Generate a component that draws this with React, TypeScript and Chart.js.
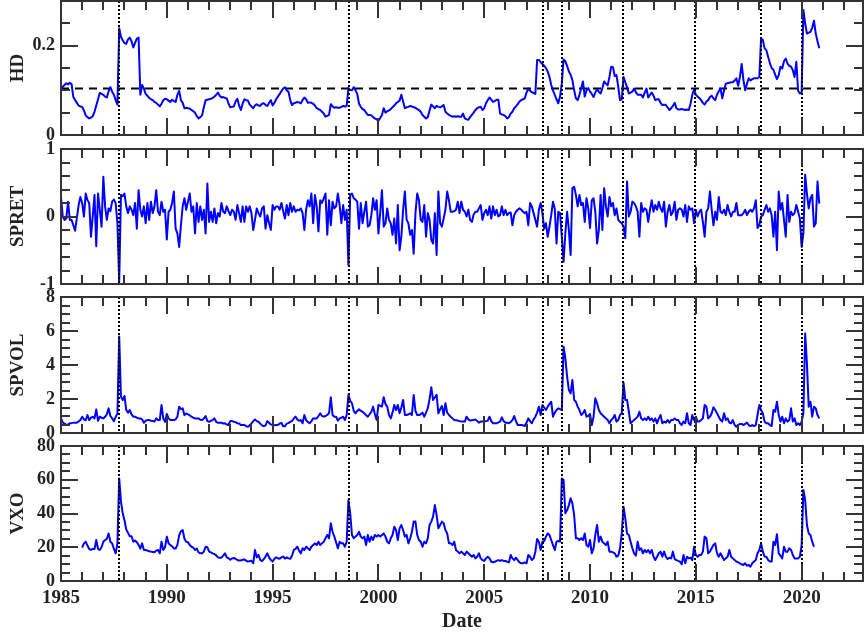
import React, { useEffect, useRef } from 'react';
import { Chart, registerables } from 'chart.js';
Chart.register(...registerables);

// ---------------- data ----------------
const START_YEAR = 1985; // HD, SPRET, SPVOL: monthly from Jan 1985
const VXO_START_YEAR = 1986; // VXO: monthly from Jan 1986
const X_MIN = 1985;
const X_MAX = 2022.9;
const X_MAJOR = 5;

const eventDates = [1987.75, 1998.6, 2007.76, 2008.68, 2011.57, 2014.96, 2018.07, 2020.03];
const hdThreshold = 0.104;

const hdValues = [
  0.100,0.108,0.112,0.116,0.113,0.117,0.114,0.085,0.078,0.072,0.066,0.064,
  0.063,0.055,0.044,0.040,0.037,0.039,0.042,0.052,0.066,0.080,0.094,0.092,
  0.090,0.086,0.084,0.098,0.107,0.097,0.090,0.078,0.068,0.239,0.220,0.212,
  0.206,0.204,0.214,0.218,0.210,0.196,0.206,0.216,0.218,0.090,0.112,0.104,
  0.092,0.088,0.083,0.080,0.078,0.074,0.072,0.068,0.064,0.070,0.078,0.081,
  0.080,0.077,0.074,0.079,0.076,0.074,0.090,0.099,0.078,0.072,0.060,0.061,
  0.060,0.059,0.056,0.053,0.050,0.042,0.037,0.040,0.044,0.062,0.078,0.079,
  0.080,0.081,0.083,0.086,0.090,0.095,0.088,0.084,0.085,0.083,0.082,0.070,
  0.062,0.063,0.064,0.075,0.081,0.066,0.056,0.070,0.080,0.078,0.077,0.068,
  0.064,0.060,0.066,0.069,0.066,0.065,0.070,0.071,0.067,0.065,0.072,0.078,
  0.066,0.072,0.080,0.086,0.092,0.098,0.104,0.107,0.100,0.097,0.078,0.067,
  0.071,0.072,0.074,0.073,0.071,0.078,0.084,0.080,0.072,0.073,0.072,0.070,
  0.066,0.060,0.058,0.056,0.052,0.048,0.041,0.043,0.045,0.069,0.064,0.061,
  0.062,0.061,0.061,0.063,0.065,0.064,0.065,0.105,0.101,0.100,0.107,0.100,
  0.092,0.070,0.063,0.058,0.056,0.050,0.045,0.045,0.044,0.040,0.037,0.035,
  0.032,0.038,0.045,0.060,0.050,0.053,0.055,0.058,0.062,0.066,0.071,0.074,
  0.077,0.090,0.075,0.060,0.062,0.063,0.065,0.064,0.062,0.061,0.058,0.056,
  0.052,0.045,0.041,0.037,0.040,0.055,0.068,0.064,0.060,0.065,0.063,0.062,
  0.064,0.067,0.052,0.048,0.045,0.043,0.041,0.042,0.041,0.042,0.041,0.041,
  0.048,0.037,0.035,0.034,0.040,0.045,0.050,0.056,0.060,0.062,0.063,0.056,
  0.060,0.071,0.078,0.084,0.079,0.074,0.076,0.079,0.079,0.048,0.046,0.045,
  0.042,0.037,0.040,0.048,0.052,0.060,0.064,0.069,0.075,0.078,0.080,0.082,
  0.095,0.104,0.099,0.096,0.094,0.092,0.168,0.168,0.163,0.159,0.155,0.150,
  0.142,0.130,0.112,0.100,0.090,0.080,0.071,0.086,0.116,0.169,0.165,0.155,
  0.142,0.135,0.123,0.100,0.082,0.078,0.090,0.105,0.120,0.086,0.100,0.105,
  0.097,0.092,0.085,0.095,0.102,0.097,0.093,0.105,0.120,0.115,0.111,0.130,
  0.153,0.152,0.132,0.134,0.108,0.078,0.080,0.130,0.118,0.107,0.093,0.095,
  0.097,0.104,0.096,0.090,0.090,0.090,0.084,0.095,0.104,0.084,0.090,0.095,
  0.088,0.078,0.080,0.080,0.072,0.067,0.068,0.067,0.062,0.056,0.060,0.065,
  0.072,0.060,0.057,0.057,0.058,0.057,0.056,0.057,0.056,0.070,0.090,0.102,
  0.090,0.086,0.083,0.078,0.072,0.068,0.075,0.078,0.085,0.088,0.082,0.078,
  0.090,0.098,0.104,0.082,0.100,0.115,0.116,0.117,0.118,0.118,0.122,0.127,
  0.110,0.130,0.159,0.123,0.100,0.115,0.127,0.122,0.125,0.127,0.127,0.127,
  0.130,0.216,0.213,0.194,0.190,0.175,0.161,0.150,0.146,0.135,0.125,0.134,
  0.153,0.149,0.165,0.171,0.160,0.155,0.153,0.145,0.130,0.164,0.099,0.093,
  0.095,0.280,0.250,0.227,0.229,0.231,0.240,0.256,0.227,0.210,0.194,
];

const spretValues = [
  0.29,0.00,-0.05,-0.03,0.22,-0.05,-0.05,-0.13,-0.21,-0.02,0.17,0.29,
  0.20,0.00,0.34,0.24,0.20,-0.30,0.00,0.32,-0.44,0.34,0.10,-0.15,
  0.59,0.15,-0.05,0.12,0.08,0.22,0.25,0.20,-0.10,-0.97,0.32,0.30,
  0.34,0.15,0.05,0.15,0.10,0.02,0.20,-0.18,0.39,0.10,0.00,0.15,
  -0.10,0.20,-0.05,0.22,0.05,0.15,0.39,0.07,0.02,0.22,0.07,0.10,
  -0.34,0.07,0.10,0.20,0.37,-0.18,-0.25,-0.45,-0.13,0.15,0.27,0.10,
  0.22,0.34,0.07,0.15,-0.25,0.20,-0.08,0.15,-0.05,0.10,-0.25,0.49,
  -0.08,0.07,-0.08,0.12,-0.10,0.05,0.00,0.20,0.07,0.05,0.15,0.08,
  0.02,0.10,0.07,-0.05,0.17,0.05,-0.08,0.15,-0.08,0.15,0.07,0.15,
  0.05,-0.20,-0.05,0.12,0.05,0.00,0.12,0.15,-0.18,0.02,-0.10,-0.20,
  0.17,0.10,0.15,0.15,0.10,0.20,0.08,-0.03,0.17,0.02,0.20,0.07,
  0.15,0.07,0.10,0.09,0.12,0.05,-0.20,0.10,0.24,0.15,0.34,-0.10,
  0.32,0.15,-0.22,0.24,0.20,0.27,0.34,-0.27,0.24,-0.13,0.22,0.12,
  0.15,0.34,0.17,-0.10,0.17,-0.05,0.10,-0.72,0.32,0.34,0.27,0.25,
  0.22,-0.18,0.20,-0.10,0.07,0.22,-0.15,-0.13,0.02,0.27,0.10,0.24,
  -0.25,0.05,0.39,-0.15,-0.10,0.12,-0.05,-0.10,-0.27,-0.03,-0.40,0.17,
  -0.50,-0.30,0.10,0.37,-0.05,-0.10,-0.27,-0.20,-0.55,0.05,0.34,0.24,
  -0.05,-0.08,0.17,-0.30,0.05,-0.05,-0.35,-0.40,0.05,-0.57,0.37,-0.10,
  -0.15,-0.03,0.10,0.37,0.24,0.07,0.07,0.08,0.10,0.22,0.05,0.22,
  0.10,0.07,0.00,0.10,-0.05,-0.08,0.03,0.07,0.07,0.12,0.17,-0.05,
  0.05,0.10,0.02,0.15,-0.03,0.15,0.02,0.10,0.00,0.02,0.15,0.02,
  0.10,0.02,0.05,0.06,-0.13,0.02,0.07,0.10,0.12,0.10,0.07,0.05,
  0.07,-0.13,0.20,0.15,0.05,-0.05,-0.15,0.10,0.20,0.05,-0.18,-0.10,
  -0.30,-0.15,0.02,0.22,0.12,-0.40,0.07,0.05,-0.30,-0.67,-0.25,0.07,
  -0.20,-0.57,0.42,0.44,0.32,0.15,0.32,
  0.17,0.20,-0.08,0.27,0.12,-0.17,0.24,0.27,0.07,-0.40,
  -0.20,0.32,-0.20,0.42,0.15,0.00,0.29,0.15,0.20,0.02,
  0.12,-0.05,-0.08,-0.10,-0.15,-0.32,0.52,0.00,0.07,
  0.22,0.20,0.15,0.07,-0.30,0.20,0.07,0.12,0.10,-0.08,
  0.10,0.24,0.07,0.17,0.10,0.22,0.12,0.07,0.22,
  -0.15,0.07,0.17,0.02,0.07,0.22,-0.05,0.10,0.12,
  0.10,0.00,0.17,-0.08,0.15,0.10,0.12,-0.10,0.10,0.00,
  0.07,0.10,-0.08,-0.30,0.07,0.12,0.37,0.10,-0.13,
  0.07,-0.05,0.29,0.07,0.05,0.10,0.02,0.17,0.07,0.00,
  0.07,0.07,0.20,0.02,0.02,0.02,0.05,0.10,
  0.02,0.07,0.10,0.07,0.12,0.24,-0.17,-0.13,0.00,0.02,
  0.10,0.17,0.07,0.12,0.02,-0.30,0.07,-0.50,0.37,0.10,
  0.20,-0.05,-0.30,0.32,-0.08,0.07,0.02,0.05,0.17,
  0.07,-0.03,-0.45,-0.25,0.62,0.34,0.12,0.27,0.32,-0.15,
  -0.10,0.52,0.19,
];

const spvolValues = [
  0.86,0.62,0.55,0.47,0.50,0.57,0.58,0.61,0.60,0.61,0.68,0.76,
  0.96,0.80,0.75,1.06,0.76,0.90,0.95,0.86,1.39,0.72,0.96,0.90,
  0.86,0.95,1.10,1.45,1.00,0.86,0.70,0.95,1.15,5.67,2.14,1.94,
  2.18,1.35,1.20,1.35,1.10,0.96,0.96,0.90,0.86,0.86,0.80,0.60,
  0.72,0.76,0.76,0.72,0.70,0.68,0.86,0.76,0.76,1.65,0.85,0.66,
  1.12,0.86,0.76,0.76,0.76,0.80,0.96,1.55,1.40,1.45,1.05,1.15,
  1.10,1.05,0.96,0.90,0.86,0.86,0.86,0.78,0.76,0.85,1.00,0.70,
  0.66,0.72,0.76,0.86,0.66,0.60,0.60,0.60,0.56,0.57,0.50,0.47,
  0.70,0.70,0.66,0.64,0.57,0.56,0.47,0.47,0.47,0.40,0.37,0.45,
  0.56,0.70,0.80,0.70,0.66,0.55,0.45,0.40,0.45,0.70,0.60,0.50,
  0.48,0.45,0.47,0.47,0.55,0.60,0.40,0.40,0.55,0.58,0.66,0.70,
  0.85,0.96,0.80,0.72,0.76,0.57,1.06,0.76,0.65,0.57,0.70,0.86,
  0.86,0.86,1.00,1.16,1.00,0.96,1.00,1.06,1.16,2.10,1.06,0.96,
  0.96,0.73,0.86,0.90,0.96,0.76,1.06,2.24,1.90,1.75,1.30,1.16,
  1.30,1.39,1.30,1.25,1.16,1.05,0.96,1.10,1.25,1.55,1.10,0.76,
  1.65,1.60,1.55,2.10,1.70,1.55,1.06,0.86,1.20,1.65,1.35,1.65,
  1.16,1.50,1.94,1.06,1.06,1.10,1.16,1.06,2.24,1.30,1.06,1.06,
  1.10,1.20,0.96,1.20,1.45,2.00,2.69,1.94,2.10,2.24,1.16,1.40,
  1.59,1.06,1.75,1.20,1.06,0.96,0.86,0.76,0.75,0.73,0.70,0.67,
  0.67,0.67,0.96,0.80,0.73,0.75,0.76,0.80,0.70,0.61,0.67,0.67,
  0.67,0.70,0.73,0.96,0.70,0.57,0.57,0.57,0.62,0.67,0.92,0.70,
  0.61,0.60,0.57,0.65,0.76,1.00,0.70,0.47,0.47,0.47,0.45,0.41,
  0.60,0.86,0.70,0.57,0.80,0.96,1.20,1.55,1.06,1.65,1.50,1.35,
  1.55,1.70,1.84,0.96,1.20,1.35,1.45,1.40,1.35,5.08,4.40,3.31,
  2.53,2.33,3.12,1.94,1.84,1.55,1.35,
  1.06,1.16,1.35,0.96,1.00,1.12,0.47,0.96,2.04,1.75,1.35,1.16,
  1.06,0.96,0.86,0.76,0.57,0.76,0.86,1.06,0.67,0.76,1.06,1.16,
  2.96,1.94,1.94,1.25,0.57,0.67,0.76,0.86,0.96,1.25,
  0.86,0.76,0.86,0.76,0.96,0.76,0.86,0.67,0.86,0.57,
  0.86,1.06,0.57,0.67,0.61,0.76,0.61,0.76,0.76,0.86,
  0.76,0.76,0.57,0.47,0.67,0.57,1.16,0.57,0.47,1.06,
  0.76,0.96,0.67,0.67,0.76,0.86,1.65,1.55,0.86,0.96,
  1.16,1.51,1.35,1.16,0.96,0.76,0.67,1.16,0.76,0.86,
  0.61,0.57,0.76,0.47,0.37,0.47,0.53,0.53,0.47,0.53,
  0.61,0.47,0.41,0.47,0.41,0.47,1.06,1.65,1.35,1.16,
  0.67,0.57,0.57,0.47,0.41,1.35,1.25,1.84,1.06,0.67,
  0.96,0.57,0.86,0.67,0.76,1.45,0.67,0.86,0.47,0.57,
  0.47,0.67,1.16,5.86,4.10,1.55,1.84,0.96,1.55,1.45,
  1.06,0.86,
];

const vxoValues = [
  19.8,22.3,23.3,21.0,19.0,18.4,19.0,19.0,24.3,19.0,18.4,20.0,
  23.3,24.3,25.0,28.2,23.3,22.3,19.0,16.4,22.3,60.8,47.0,40.1,
  36.0,30.5,28.5,26.5,26.5,23.3,24.0,23.0,21.3,19.2,22.3,18.4,
  18.4,18.0,17.6,17.4,17.2,17.0,18.0,18.4,16.4,23.3,18.4,20.0,
  26.3,22.3,21.3,20.5,19.3,19.3,21.3,27.0,29.5,30.2,25.0,23.3,
  23.0,21.3,20.3,19.8,18.4,19.2,17.0,16.4,16.4,17.4,20.3,20.0,
  17.4,17.0,16.4,16.0,15.2,14.0,13.8,13.8,15.0,16.4,14.0,13.5,
  12.6,13.4,13.6,13.2,12.4,12.2,12.2,12.6,12.8,12.0,11.5,11.8,
  12.0,10.5,18.4,14.0,15.5,12.5,11.8,13.0,14.5,16.4,14.0,12.4,
  11.5,13.2,14.0,13.5,13.2,14.0,14.5,13.3,14.0,13.4,13.2,15.0,
  18.4,19.0,20.3,18.0,16.4,19.4,18.4,20.3,19.4,18.4,20.3,21.3,
  22.3,21.3,23.3,21.3,22.3,23.3,25.3,27.3,25.3,34.2,29.2,26.3,
  23.0,19.4,23.3,22.3,22.3,20.3,23.3,48.0,40.1,27.3,25.3,26.3,
  27.3,29.2,26.3,25.3,26.3,21.3,27.3,23.3,26.3,24.3,27.3,26.3,
  27.3,26.3,27.3,28.2,26.3,23.3,22.3,25.3,27.3,32.2,30.2,24.3,
  31.2,33.2,30.2,26.3,27.3,22.3,25.3,29.2,35.2,35.2,27.3,24.3,
  23.3,20.3,23.3,22.3,25.3,33.2,35.2,38.1,45.0,39.1,31.2,33.2,
  35.2,34.2,30.2,28.2,22.3,22.3,21.3,23.3,18.4,17.4,16.4,17.4,
  16.4,15.4,17.4,16.4,15.4,14.4,15.4,13.4,14.4,16.4,13.4,12.4,
  11.9,13.4,14.4,13.4,11.4,11.0,11.4,11.9,12.4,11.9,12.4,11.9,
  11.9,11.4,11.0,15.4,13.4,12.4,13.8,12.4,11.0,10.5,10.5,11.0,
  10.5,15.4,14.4,12.4,13.4,17.4,24.9,23.3,18.4,23.3,23.7,26.3,
  28.2,27.3,24.3,21.3,18.4,23.3,23.7,23.3,60.8,59.8,40.1,42.0,
  45.0,49.0,46.0,39.0,25.3,25.3,24.3,25.3,24.3,28.2,21.3,20.3,
  24.3,16.4,19.4,27.3,33.2,23.3,26.3,23.3,22.3,21.3,23.3,17.4,
  17.4,17.0,16.4,14.4,15.0,19.4,28.2,44.0,
  37.1,28.2,27.3,23.3,19.4,16.4,15.0,23.3,18.4,19.4,
  16.4,18.4,17.0,18.4,16.4,18.4,14.4,12.4,14.4,16.4,
  17.4,14.4,17.4,14.4,13.0,13.8,13.4,17.4,13.0,12.4,
  11.9,11.5,9.9,15.4,10.5,14.4,13.4,13.8,12.4,20.3,
  15.4,14.4,15.4,15.4,17.4,26.3,25.3,16.4,17.4,19.4,
  21.3,22.3,16.4,14.4,16.4,14.4,12.4,13.4,14.4,18.4,
  14.4,13.4,12.4,11.5,11.1,10.5,9.9,9.5,10.5,9.1,
  9.5,8.5,10.5,11.5,12.4,16.4,18.4,22.3,17.4,14.4,
  14.4,12.4,11.5,11.5,23.3,21.3,27.7,16.4,15.0,13.4,
  20.3,17.4,17.4,19.4,18.4,15.4,13.4,13.4,13.4,14.4,
  21.3,54.0,48.0,33.2,28.2,27.3,23.3,20.3,
];

// ---------------- layout / style ----------------
const W = 864;
const H = 636;
const AXIS_W = 61;
const FONT = "'Liberation Serif', 'Times New Roman', serif";
const TEXT = '#222';
const FRAME = '#333';
const LINE = '#0000ff';

type Panel = {
  label: string; values: number[]; start: number;
  min: number; max: number; major: number; minor: number;
  top: number; bottom: number; refLine?: number; showX: boolean;
};

const panels: Panel[] = [
  { label: 'HD', values: hdValues, start: START_YEAR, min: 0, max: 0.3, major: 0.2, minor: 0.05, top: 1, bottom: 135, refLine: hdThreshold, showX: false },
  { label: 'SPRET', values: spretValues, start: START_YEAR, min: -1, max: 1, major: 1, minor: 0.2, top: 149, bottom: 284, showX: false },
  { label: 'SPVOL', values: spvolValues, start: START_YEAR, min: 0, max: 8, major: 2, minor: 0.5, top: 297, bottom: 433, showX: false },
  { label: 'VXO', values: vxoValues, start: VXO_START_YEAR, min: 0, max: 80, major: 20, minor: 5, top: 446, bottom: 581, showX: true },
];

function line(ctx: CanvasRenderingContext2D, x1: number, y1: number, x2: number, y2: number) {
  ctx.beginPath(); ctx.moveTo(x1, y1); ctx.lineTo(x2, y2); ctx.stroke();
}

function makeDecor(p: Panel) {
  return {
    id: 'decor',
    beforeDatasetsDraw(chart: any) {
      if (p.refLine == null) return;
      const { ctx, chartArea: a, scales } = chart;
      const py = scales.y.getPixelForValue(p.refLine);
      ctx.save();
      ctx.strokeStyle = '#000'; ctx.lineWidth = 2; ctx.setLineDash([8, 6]);
      line(ctx, a.left, py, a.right, py);
      ctx.restore();
    },
    afterDatasetsDraw(chart: any) {
      const { ctx, chartArea: a, scales } = chart;
      const x = scales.x, y = scales.y;
      ctx.save();
      ctx.strokeStyle = '#000'; ctx.lineWidth = 2; ctx.setLineDash([2, 2]);
      for (const d of eventDates) {
        const px = Math.round(x.getPixelForValue(d));
        line(ctx, px, a.top, px, a.bottom);
      }
      ctx.setLineDash([]);
      ctx.strokeStyle = FRAME; ctx.lineWidth = 2;
      ctx.strokeRect(a.left, a.top, a.right - a.left, a.bottom - a.top);
      for (let yr = Math.ceil(X_MIN); yr <= X_MAX; yr++) {
        const px = Math.round(x.getPixelForValue(yr));
        const len = yr % X_MAJOR === 0 ? 17 : 9;
        line(ctx, px, a.bottom, px, a.bottom - len);
        line(ctx, px, a.top, px, a.top + len);
      }
      const n = Math.round((p.max - p.min) / p.minor);
      for (let i = 0; i <= n; i++) {
        const v = p.min + i * p.minor;
        const r = v / p.major;
        const isMajor = Math.abs(r - Math.round(r)) < 1e-6;
        const len = isMajor ? 17 : 9;
        const py = Math.round(y.getPixelForValue(v));
        line(ctx, a.left, py, a.left + len, py);
        line(ctx, a.right, py, a.right - len, py);
      }
      ctx.restore();
    },
  };
}

function PanelChart({ p }: { p: Panel }) {
  const ref = useRef<HTMLCanvasElement>(null);
  useEffect(() => {
    const points = p.values.map((v, i) => ({ x: p.start + i / 12, y: v }));
    const chart = new Chart(ref.current as HTMLCanvasElement, {
      type: 'line',
      data: {
        datasets: [{
          data: points, borderColor: LINE, borderWidth: 2, pointRadius: 0,
          fill: false, tension: 0, borderJoinStyle: 'round',
        }],
      },
      options: {
        responsive: false,
        animation: false,
        devicePixelRatio: 1,
        events: [],
        layout: { padding: { top: p.top, bottom: p.showX ? 0 : H - p.bottom, left: 0, right: 1 } },
        plugins: { legend: { display: false }, tooltip: { enabled: false } },
        scales: {
          x: {
            type: 'linear', min: X_MIN, max: X_MAX, display: p.showX,
            grid: { display: false, drawTicks: false }, border: { display: false },
            ticks: {
              stepSize: X_MAJOR, includeBounds: false, autoSkip: false, maxRotation: 0,
              padding: 6, color: TEXT, font: { family: FONT, size: 19, weight: 'bold' },
              callback: (v: any) => String(v),
            },
            title: {
              display: p.showX, text: 'Date', color: TEXT,
              font: { family: FONT, size: 20, weight: 'bold' }, padding: { top: 0, bottom: 2 },
            },
            afterFit: (s: any) => {
              if (p.showX) s.height = H - p.bottom;
              s.paddingLeft = 0; s.paddingRight = 0;
            },
          },
          y: {
            type: 'linear', min: p.min, max: p.max,
            grid: { display: false, drawTicks: false }, border: { display: false },
            ticks: {
              stepSize: p.major, includeBounds: false, padding: 6, color: TEXT,
              font: { family: FONT, size: 18, weight: 'bold' },
            },
            title: {
              display: true, text: p.label, color: TEXT,
              font: { family: FONT, size: 19, weight: 'bold' }, padding: { top: 7, bottom: 0 },
            },
            afterFit: (s: any) => { s.width = AXIS_W; s.paddingTop = 0; s.paddingBottom = 0; },
          },
        },
      } as any,
      plugins: [makeDecor(p)],
    });
    return () => chart.destroy();
  }, [p]);
  return (
    <canvas ref={ref} width={W} height={H}
      style={{ position: 'absolute', left: 0, top: 0, width: W, height: H }} />
  );
}

export default function App() {
  return (
    <div style={{ position: 'absolute', left: 0, top: 0, width: W, height: H, background: '#fff', overflow: 'hidden' }}>
      {panels.map((p) => <PanelChart key={p.label} p={p} />)}
    </div>
  );
}
